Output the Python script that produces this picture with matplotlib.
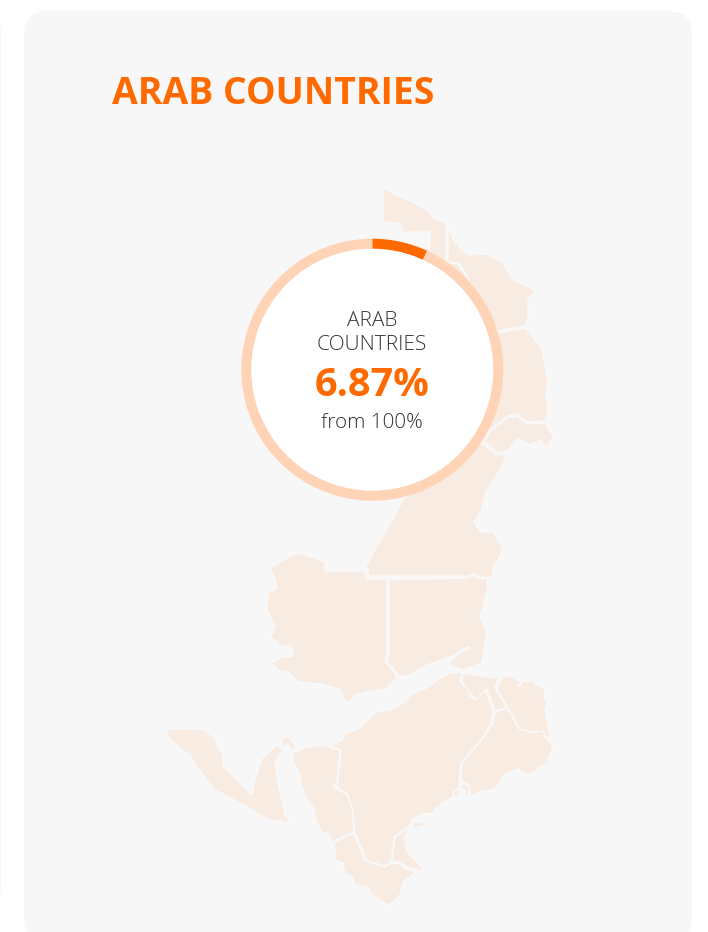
#!/usr/bin/env python

import matplotlib
matplotlib.use('Agg')
import matplotlib.pyplot as plt
from matplotlib.patches import Polygon, FancyBboxPatch

plt.rcParams['font.family'] = ['Open Sans', 'DejaVu Sans']

title = "ARAB COUNTRIES"
ring_label = "ARAB\nCOUNTRIES"
ring_value = "6.87%"
ring_note = "from 100%"
share_values = [6.87, 93.13]

# region outlines, in image pixels
top_gulf = [(383,187),(393,193),(410,201),(427,210),(435,219),(446,222),(446,262),(458,264),(470,282),(440,300),(400,260),(430,247),(430,232),(403,232),(400,223),(383,222)]
east_coast = [(448,225),(453,240),(462,250),(470,255),(487,254),(502,262),(508,272),(513,280),(525,285),(535,290),(528,300),(528,317),(525,326),(498,331),(490,320),(470,282),(459,263),(448,262)]
east_mid = [(498,333),(525,328),(533,337),(542,350),(545,365),(548,380),(546,395),(548,410),(545,421),(527,422),(517,414),(507,416),(490,430),(470,400),(480,350)]
east_low = [(490,432),(507,418),(517,416),(527,424),(545,423),(553,437),(547,447),(540,440),(530,445),(517,438),(507,452),(497,452),(484,441)]
horn_big = [(483,444),(497,455),(507,454),(502,467),(487,490),(483,502),(482,510),(474,522),(480,532),(493,532),(503,548),(498,560),(493,568),(492,577),(480,577),(473,574),(467,576),(369,576),(368,569),(365,568),(420,470),(460,440)]
west_big = [(325,571),(365,571),(366,579),(387,579),(387,653),(385,662),(393,670),(397,678),(388,688),(372,691),(355,695),(348,703),(343,697),(340,690),(322,684),(298,682),(288,672),(280,671),(270,663),(283,657),(293,657),(293,650),(290,645),(282,647),(271,637),(275,625),(267,610),(268,593),(277,588),(275,578),(270,568),(283,560),(298,553),(312,557),(325,562)]
mid_big = [(389,580),(467,578),(473,576),(480,579),(487,578),(488,588),(480,617),(487,633),(483,657),(482,663),(463,670),(448,665),(457,655),(470,648),(467,647),(450,657),(427,665),(408,676),(398,676),(393,668),(387,662),(389,655)]
sinai = [(165,733),(170,729),(203,729),(216,739),(217,746),(223,755),(223,766),(252,795),(254,783),(262,758),(277,745),(283,750),(275,763),(278,783),(282,800),(285,815),(289,819),(288,823),(267,819),(240,803),(215,790),(197,767),(190,755),(178,747)]
cape = [(282,737),(290,738),(296,747),(292,751),(287,743),(285,748),(282,746)]
south_west = [(293,753),(305,748),(323,745),(328,746),(332,749),(340,750),(338,767),(337,782),(333,786),(347,795),(352,807),(354,832),(332,842),(328,833),(322,833),(317,823),(313,807),(307,800),(302,787),(299,772),(293,763)]
south_tip = [(333,843),(354,833),(365,861),(385,867),(392,863),(400,864),(407,870),(417,871),(403,882),(400,895),(389,905),(380,900),(370,893),(368,887),(355,885),(352,877),(345,873),(343,863),(335,860),(335,850)]
south_east = [(395,837),(408,828),(405,837),(407,852),(415,860),(425,871),(417,869),(407,867),(400,862),(392,861)]
central = [(330,746),(342,740),(345,734),(360,728),(370,717),(377,712),(390,710),(405,702),(413,693),(427,688),(437,680),(450,673),(462,672),(460,682),(468,688),(470,697),(475,699),(486,690),(493,712),(491,723),(482,738),(461,763),(459,788),(453,792),(453,797),(443,803),(437,807),(433,813),(423,814),(413,819),(408,827),(394,837),(391,862),(385,866),(366,860),(355,832),(352,807),(347,793),(335,786),(338,782),(341,750),(332,747)]
north_strip = [(463,673),(498,678),(495,688),(507,708),(495,711),(487,689),(476,699),(470,693),(462,682)]
east_block = [(494,713),(507,708),(519,729),(533,732),(543,731),(545,737),(552,745),(552,752),(548,758),(550,762),(540,767),(533,773),(528,775),(518,769),(513,771),(503,776),(500,783),(493,790),(483,791),(473,795),(470,795),(470,786),(461,780),(462,763),(483,738),(493,723)]
far_east = [(501,679),(505,675),(512,677),(518,680),(522,684),(517,687),(523,681),(533,681),(537,685),(545,688),(544,695),(547,703),(545,710),(548,723),(549,732),(551,739),(545,735),(543,731),(533,732),(520,729),(497,689)]
bit_a = [(454,792),(459,789),(460,795),(454,797)]
bit_b = [(462,783),(469,787),(468,795),(465,795),(465,790),(461,789)]
island_a = [(412,822),(425,822),(427,825),(415,828)]
island_b = [(487,672),(497,674),(490,675)]

map_regions = [top_gulf, east_coast, east_mid, east_low, horn_big, west_big, mid_big, sinai, cape,
               south_west, south_tip, south_east, central, north_strip, east_block, far_east,
               bit_a, bit_b, island_a, island_b]

W = 708
H = 932

fig = plt.figure(figsize=(W/100, H/100), dpi=100, facecolor='white')
ax = fig.add_axes([0, 0, 1, 1])
ax.set_xlim(0, W)
ax.set_ylim(H, 0)
ax.axis('off')

# cards
ax.add_patch(FancyBboxPatch((24+24, 11+24), 668-48, 883, boxstyle="round,pad=24,rounding_size=24",
                            fc='#f7f7f7', ec='none', zorder=1))
ax.add_patch(FancyBboxPatch((-30, 25), 31, 870, boxstyle="round,pad=0,rounding_size=3",
                            fc='#f7f7f7', ec='none', zorder=1))

for region in map_regions:
    ax.add_patch(Polygon(region, closed=True, fc='#f7ebe2', ec='#f9f9f9', lw=1.0, zorder=2))

ax.text(112.5, 93.5, title, color='#ff6a00', fontsize=26.9, fontweight='bold', va='center', ha='left', zorder=5)

# ring
cx, cy = 372.3, 369.7
R = 131
axp = fig.add_axes([(cx-R)/W, 1-(cy+R)/H, 2*R/W, 2*R/H])
axp.pie(share_values, colors=['#ff6a00', '#ffd3b5'], startangle=90, counterclock=False, radius=1.0,
        wedgeprops=dict(width=10.3/R, linewidth=0))
axp.add_patch(plt.Circle((0, 0), (R-10)/R, fc='white', ec='none'))
axp.set_xlim(-1, 1)
axp.set_ylim(-1, 1)

ax2 = fig.add_axes([0, 0, 1, 1])
ax2.set_xlim(0, W)
ax2.set_ylim(H, 0)
ax2.axis('off')
ax2.patch.set_alpha(0)
ax2.text(372, 333, ring_label, color='#333333', fontsize=15, fontweight='light', ha='center', va='center', linespacing=1.2)
ax2.text(372, 385, ring_value, color='#ff6a00', fontsize=28.5, fontweight='bold', ha='center', va='center')
ax2.text(372, 423, ring_note, color='#333333', fontsize=14.9, fontweight='light', ha='center', va='center')

plt.savefig("out.png", dpi=100)
